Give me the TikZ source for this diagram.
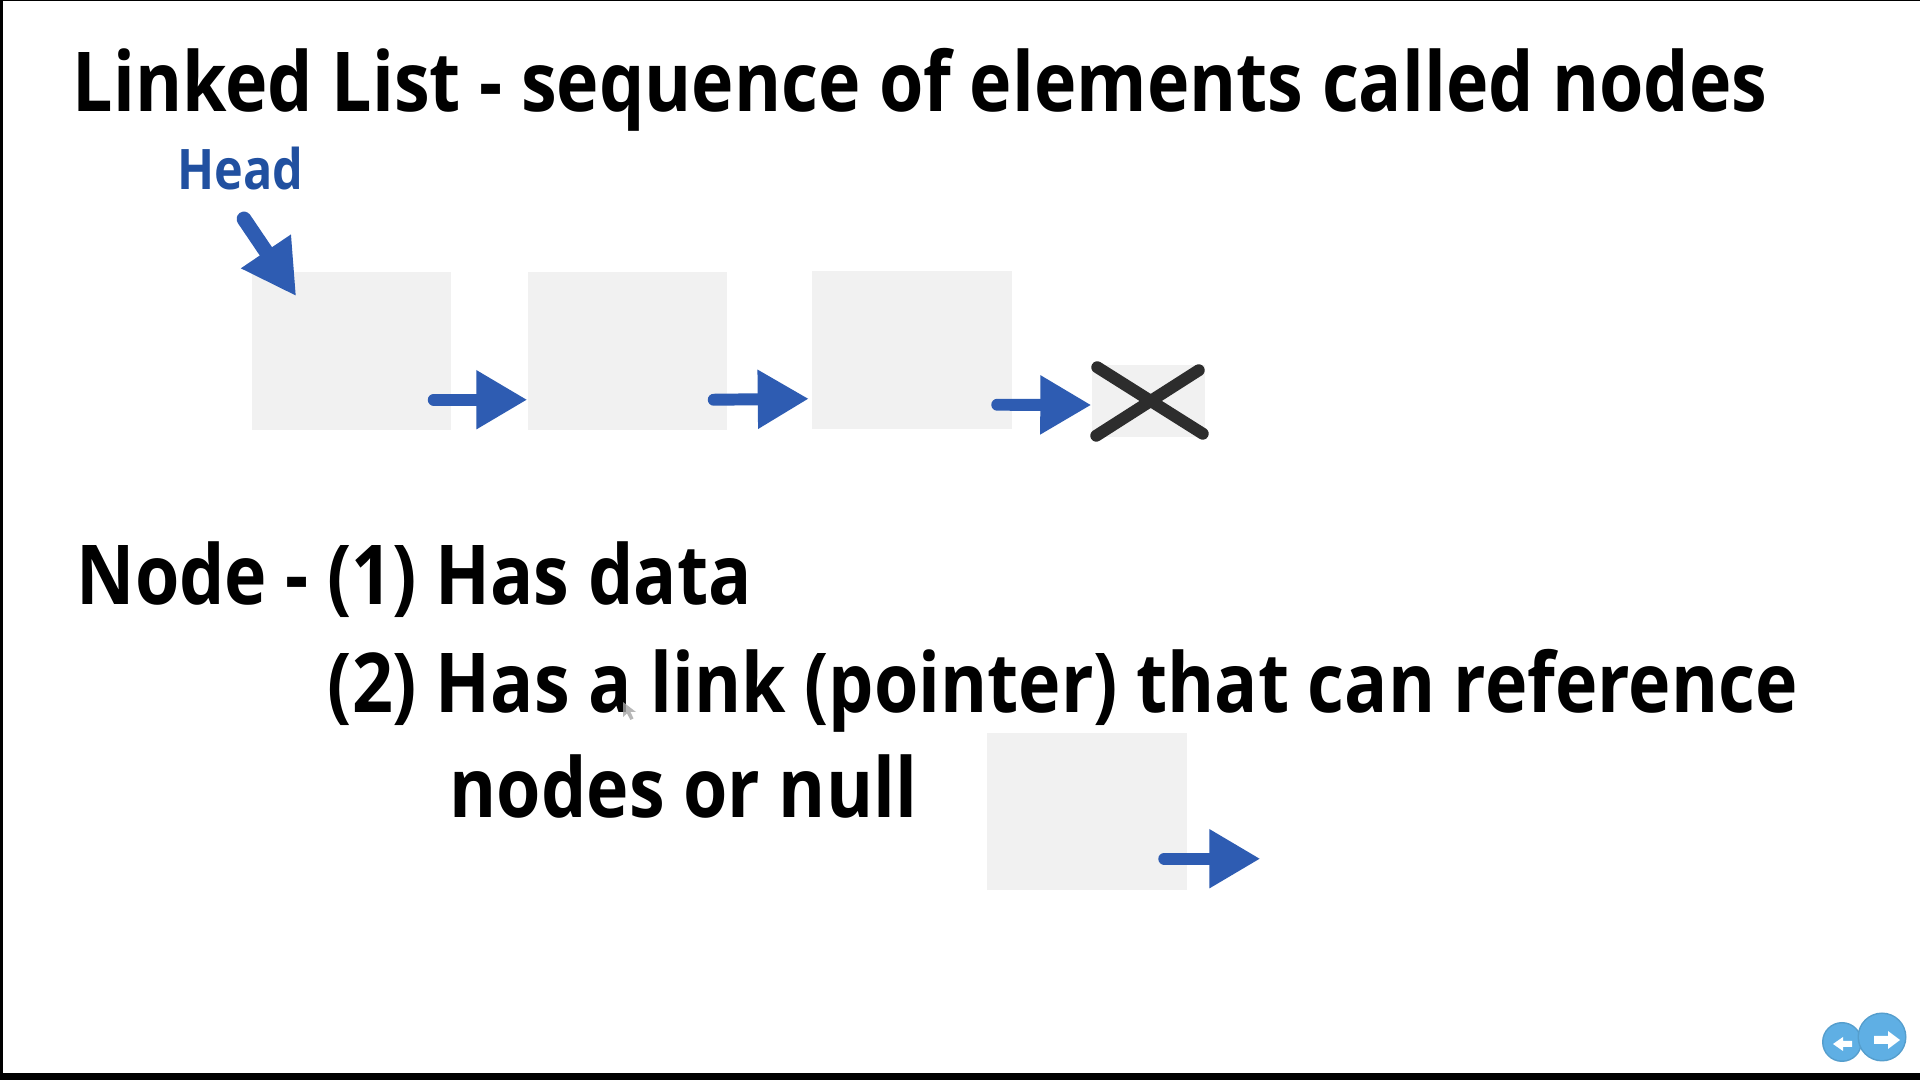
\documentclass[tikz,border=0pt]{standalone}
\usepackage{fontspec}
\setmainfont{Open Sans}[FakeStretch=0.868]
\usetikzlibrary{arrows.meta,calc}
\definecolor{arrowblue}{RGB}{46,92,178}
\definecolor{headblue}{RGB}{33,80,160}
\definecolor{boxgray}{RGB}{241,241,241}
\definecolor{xgray}{RGB}{45,45,45}
\definecolor{navblue}{RGB}{95,175,228}
\begin{document}
\begin{tikzpicture}[x=0.01cm,y=-0.01cm,
  listbox/.style={fill=boxgray, draw=none, inner sep=0, minimum width=1.99cm, minimum height=1.58cm},
  txt/.style={inner sep=0, anchor=base west, font=\bfseries\fontsize{23.5}{28}\selectfont},
  blarrow/.style={draw=arrowblue, line width=3.4pt, line cap=round, -{Triangle[length=14.5pt,width=15.9pt]}},
  headarrow/.style={draw=arrowblue, line width=4.2pt, line cap=round, -{Triangle[length=15.4pt,width=16pt]}},
  xline/.style={draw=xgray, line width=3.4pt, line cap=round}]
\useasboundingbox (0,0) rectangle (1920,1080);
\fill[white] (0,0) rectangle (1920,1080);
% frame
\fill[black] (0,0) rectangle (3,1080);
\fill[black] (0,0) rectangle (1920,1.5);
\fill[black] (0,1073) rectangle (1920,1080);

% texts
\node[txt] (title) at (72,112) {Linked List - sequence of elements called nodes};
\node[txt, text=headblue, font=\bfseries\fontsize{15.9}{19}\selectfont] (head) at (177,190) {Head};
\node[txt] (line1) at (76,605) {Node - (1) Has data};
\node[txt] (line2) at (327,713) {(2) Has a link (pointer) that can reference};
\node[txt] (line3) at (449,818) {nodes or null};

% list boxes
\node[listbox] (box1) at (351.5,351) {};
\node[listbox] (box2) at (627.5,351) {};
\node[listbox] (box3) at (912,350) {};
\node[fill=boxgray, inner sep=0, minimum width=1.13cm, minimum height=0.72cm] (nullbox) at (1148.5,401) {};
\node[listbox, minimum height=1.57cm] (nb) at (1087,811.5) {};

% null cross
\draw[xline] ($(nullbox.north west)+(6,3)$) -- ($(nullbox.south east)+(-3,-4)$);
\draw[xline] ($(nullbox.north east)+(-7,6)$) -- ($(nullbox.south west)+(5,-2)$);

% head arrow
\coordinate (htail) at (244,219);
\draw[headarrow] (htail) -- ($(box1.north west)+(45,25)$);

% links
\draw[blarrow] ($(box1.south east)+(-18,-31)$) -- ($(box2.south west)+(0,-31)$);
\draw[blarrow] ($(box2.south east)+(-14,-31)$) -- ($(box3.south west)+(-3,-31)$);
\draw[blarrow] ($(box3.south east)+(-15,-25)$) -- ($(nullbox.west)+(0,4)$);
\coordinate (nbend) at ($(nb.south east)+(73,-32)$);
\draw[blarrow] ($(nb.south east)+(-23,-32)$) -- (nbend);

% mouse cursor
\fill[gray!70, opacity=0.8] (623,702) -- (623,717) -- (627,713.5) -- (630.5,720) -- (633.5,718.5) -- (630.5,712) -- (636,712) -- cycle;

% navigation buttons
\fill[navblue!90!black] (1842,1042) circle (20);
\fill[navblue] (1842,1042) circle (18.5);
\fill[white] (1833,1044) -- (1843,1037) -- (1843,1041) -- (1852,1041) -- (1852,1047) -- (1843,1047) -- (1843,1051) -- cycle;
\fill[navblue!90!black] (1882,1037) circle (24.5);
\fill[navblue] (1882,1037) circle (23);
\fill[white] (1900,1040) -- (1888,1031) -- (1888,1036) -- (1874,1036) -- (1874,1044) -- (1888,1044) -- (1888,1049) -- cycle;
\end{tikzpicture}
\end{document}
